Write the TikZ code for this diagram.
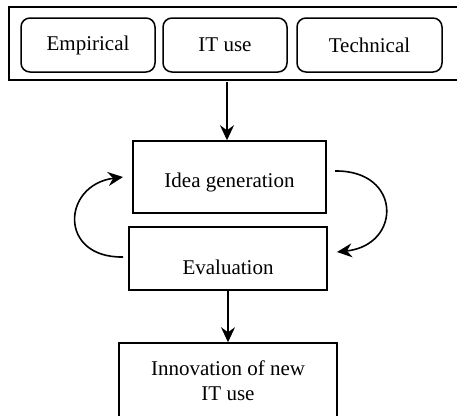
\documentclass[tikz,border=0pt]{standalone}
\usepackage{fontspec}
\setmainfont{Liberation Serif}
\usetikzlibrary{arrows.meta}
\begin{document}
\begin{tikzpicture}[x=1pt,y=-1pt,
  txt/.style={font=\fontsize{21}{25}\selectfont},
  frame/.style={draw,line width=1.7pt},
  source/.style={draw,line width=1.5pt,rounded corners=9pt,txt},
  stage/.style={draw,line width=1.5pt,txt},
  flow/.style={line width=1.6pt,-{Stealth[length=15pt,width=14pt,inset=5pt]}}]
\useasboundingbox (0,0) rectangle (457,415);
\clip (0,0) rectangle (457,415);
% outer frame around the three sources
\draw[frame] (9,7) rectangle (470,80);
\node[source,minimum width=134pt,minimum height=54pt] (emp) at (88,45) {Empirical};
\node[source,minimum width=124pt,minimum height=54pt] (itu) at (225,45) {IT use};
\node[source,minimum width=145pt,minimum height=54pt] (tec) at (369.5,45) {Technical};
\coordinate (src) at (227,82);
% process boxes
\node[stage,minimum width=193pt,minimum height=72pt] (idea) at (229.5,177) {};
\node[txt] at (229.5,182) {Idea generation};
\node[stage,minimum width=198pt,minimum height=63pt] (eval) at (228,258.5) {};
\node[txt] at (228,267) {Evaluation};
\node[stage,minimum width=218pt,minimum height=90pt] (inno) at (228,388) {};
\node[txt,align=center] at (228,381) {Innovation of new\\IT use};
% connectors
\draw[flow] (src) -- (idea.north -| src);
\draw[flow] (eval.south -| 228,0) -- (inno.north);
\coordinate (l1) at (123,257);
\coordinate (l2) at (123,177);
\coordinate (r1) at (335,171);
\coordinate (r2) at (337,252);
\draw[flow] (l1) .. controls (58,258) and (62,185) .. (l2);
\draw[flow] (r1) .. controls (402,170) and (402,245) .. (r2);
\end{tikzpicture}
\end{document}
